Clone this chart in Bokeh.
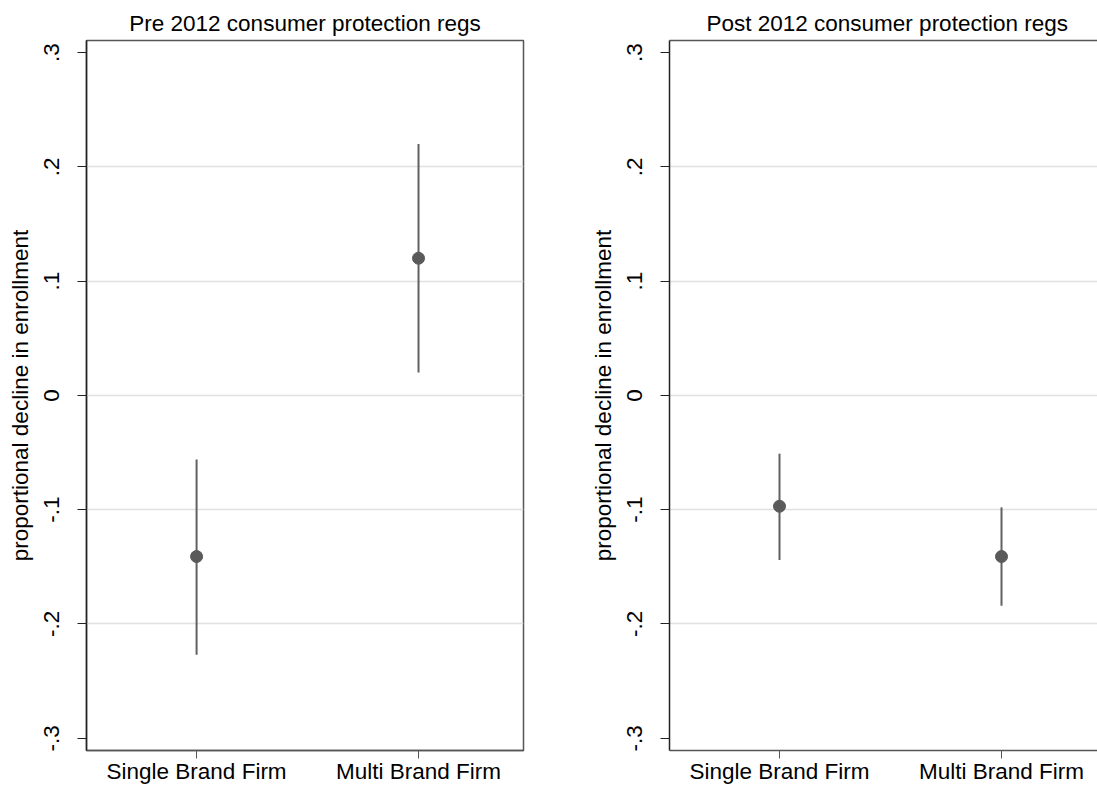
from bokeh.plotting import figure
from bokeh.layouts import row
from bokeh.models import FixedTicker, LinearAxis, Range1d, ColumnDataSource
from bokeh.embed import file_html
from bokeh.resources import INLINE

categories = ["Single Brand Firm", "Multi Brand Firm"]
pre_est = [-0.141, 0.120]
pre_lo = [-0.227, 0.020]
pre_hi = [-0.056, 0.220]
post_est = [-0.097, -0.141]
post_lo = [-0.144, -0.184]
post_hi = [-0.051, -0.098]
y_ticks = [-0.3, -0.2, -0.1, 0.0, 0.1, 0.2, 0.3]
y_tick_labels = ["-.3", "-.2", "-.1", "0", ".1", ".2", ".3"]
grid_ticks = [-0.2, -0.1, 0.0, 0.1, 0.2]
titles = ["Pre 2012 consumer protection regs", "Post 2012 consumer protection regs"]
y_label = "proportional decline in enrollment"

FONT = "Liberation Sans"
FS = "22.5px"
x_pos = [i + 1 for i in range(len(categories))]


def make_panel(title, est, lo, hi, width, border_left, border_right, x_rng, right_open):
    p = figure(width=width, height=787, output_backend="svg", toolbar_location=None,
               x_range=Range1d(*x_rng), y_range=Range1d(-0.3107, 0.3105),
               min_border_left=border_left, min_border_right=border_right,
               min_border_top=40, min_border_bottom=37,
               background_fill_color="white", border_fill_color="white")
    p.title.text = title
    p.title.text_font = FONT
    p.title.text_font_size = FS
    p.title.text_font_style = "normal"
    p.title.text_color = "black"
    if right_open:
        p.title.align = "left"
        p.title.offset = 37
    else:
        p.title.align = "center"

    src = ColumnDataSource(dict(x=x_pos, est=est, lo=lo, hi=hi, cat=categories))
    p.segment(x0="x", y0="lo", x1="x", y1="hi", source=src, line_color="#616161", line_width=2)
    p.scatter(x="x", y="est", source=src, size=12, fill_color="#5a5a5a", line_color="#5a5a5a")

    # axes
    p.xaxis.ticker = FixedTicker(ticks=x_pos)
    p.xaxis.major_label_overrides = {x: c for x, c in zip(x_pos, categories)}
    p.xaxis.minor_tick_line_color = None
    p.xaxis.major_tick_out = 8
    p.xaxis.major_tick_in = 0
    p.xaxis.major_tick_line_color = "#555555"
    p.xaxis.axis_line_color = "#555555"
    p.xaxis.axis_line_width = 1.5
    p.xaxis.major_label_standoff = 0
    p.xaxis.major_label_text_font = FONT
    p.xaxis.major_label_text_font_size = FS
    p.xaxis.major_label_text_color = "black"

    p.yaxis.ticker = FixedTicker(ticks=y_ticks)
    p.yaxis.major_label_overrides = {t: l for t, l in zip(y_ticks, y_tick_labels)}
    p.yaxis.minor_tick_line_color = None
    p.yaxis.major_tick_out = 9
    p.yaxis.major_tick_in = 0
    p.yaxis.major_tick_line_color = "#222222"
    p.yaxis.axis_line_color = "#222222"
    p.yaxis.axis_line_width = 1.5
    p.yaxis.major_label_orientation = "vertical"
    p.yaxis.major_label_standoff = 18
    p.yaxis.major_label_text_font = FONT
    p.yaxis.major_label_text_font_size = FS
    p.yaxis.major_label_text_color = "black"
    p.yaxis.axis_label = y_label
    p.yaxis.axis_label_text_font = FONT
    p.yaxis.axis_label_text_font_size = FS
    p.yaxis.axis_label_text_font_style = "normal"
    p.yaxis.axis_label_text_color = "black"
    p.yaxis.axis_label_standoff = 9

    p.xgrid.grid_line_color = None
    p.ygrid.ticker = FixedTicker(ticks=grid_ticks)
    p.ygrid.grid_line_color = "#e0e0e0"
    p.ygrid.grid_line_width = 1.5

    if right_open:
        p.outline_line_color = None
        top = LinearAxis(major_tick_line_color=None, minor_tick_line_color=None,
                         major_label_text_font_size="0px", major_label_standoff=0,
                         major_tick_out=0, major_tick_in=0,
                         axis_line_color="#555555", axis_line_width=1.5)
        top.ticker = FixedTicker(ticks=[])
        p.add_layout(top, "above")
    else:
        p.outline_line_color = "#555555"
        p.outline_line_width = 1.5
    return p


p1 = make_panel(titles[0], pre_est, pre_lo, pre_hi, 560, 86, 37, (0.504, 2.473), False)
p2 = make_panel(titles[1], post_est, post_lo, post_hi, 537, 109, 0, (0.5045, 2.4324), True)

layout = row(p1, p2)
open("out.html", "w").write(file_html(layout, INLINE))
